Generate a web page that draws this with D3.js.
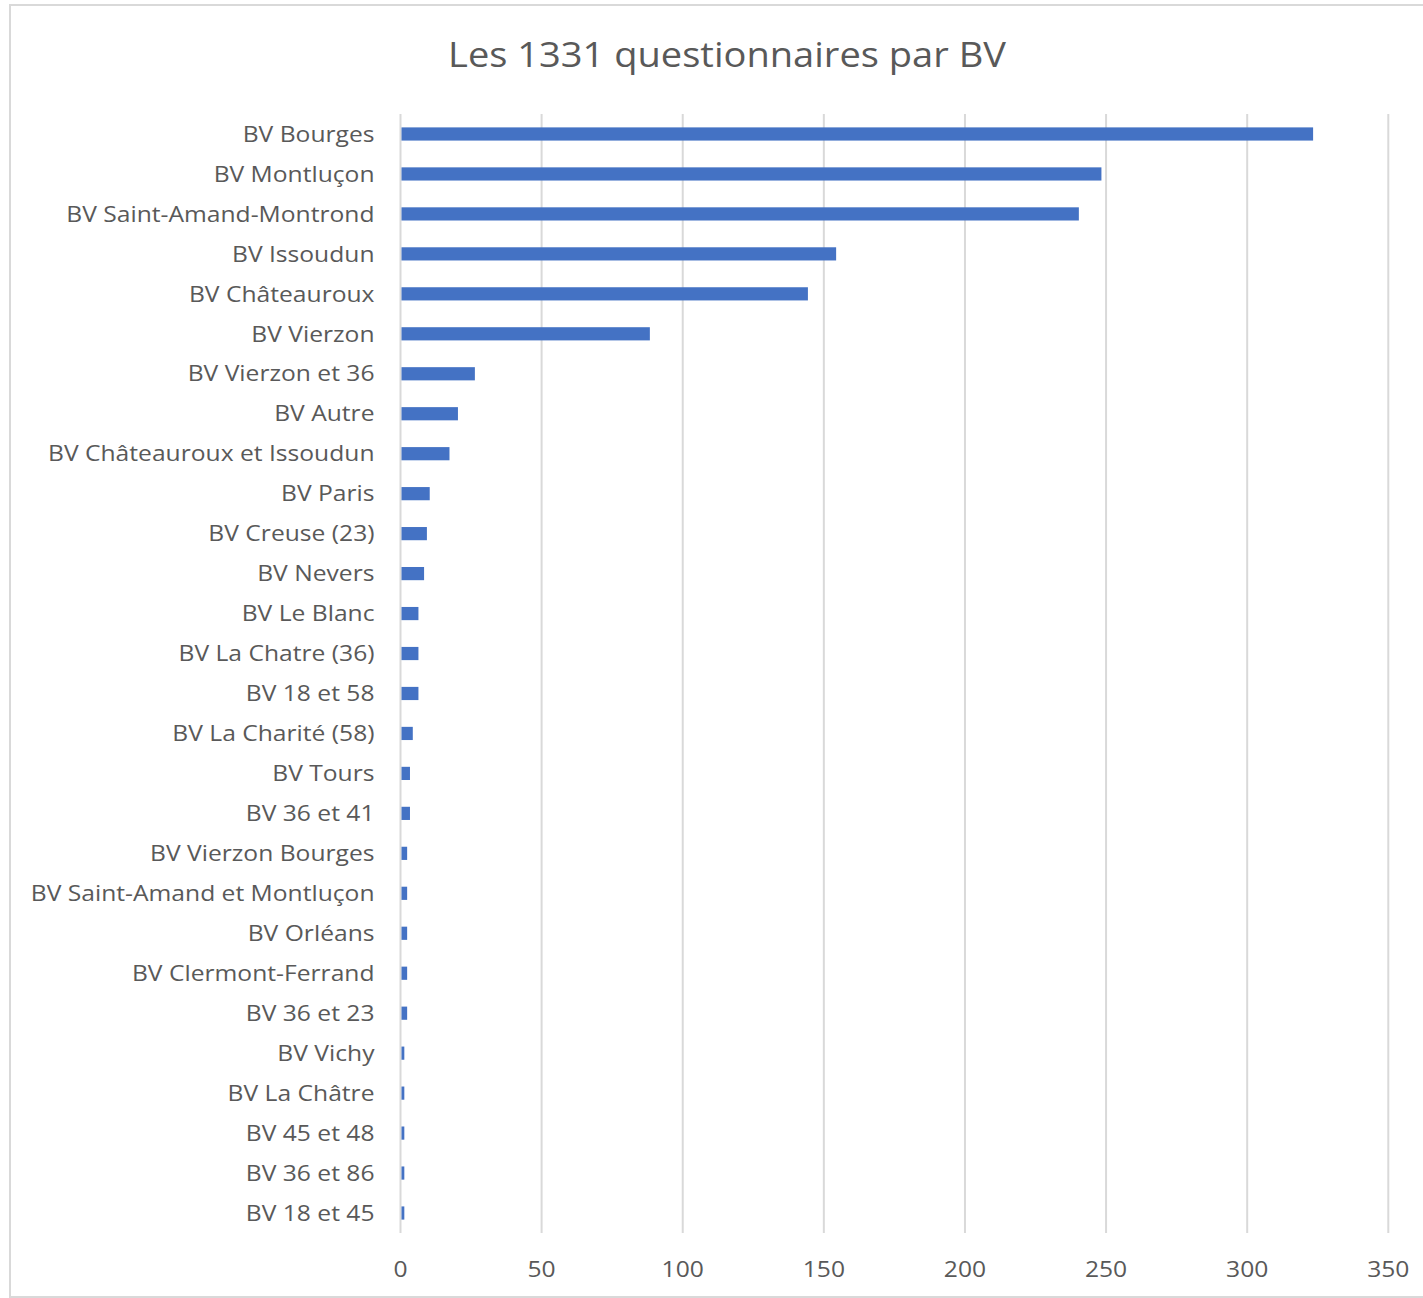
<!DOCTYPE html>
<head>
    <meta charset="utf-8" />
    <script src="https://d3js.org/d3.v7.min.js"></script>
    <style>
        body {
            margin: 0;
            background: #fff;
        }
        text {
            font-family: "Open Sans", Lato, sans-serif;
            fill: #595959;
        }
    </style>
</head>
<body>
<div id="chart"></div>
<script>
    // données
    const titre = "Les 1331 questionnaires par BV";
    const bassins = [
        "BV Bourges", "BV Montluçon", "BV Saint-Amand-Montrond", "BV Issoudun",
        "BV Châteauroux", "BV Vierzon", "BV Vierzon et 36", "BV Autre",
        "BV Châteauroux et Issoudun", "BV Paris", "BV Creuse (23)", "BV Nevers",
        "BV Le Blanc", "BV La Chatre (36)", "BV 18 et 58", "BV La Charité (58)",
        "BV Tours", "BV 36 et 41", "BV Vierzon Bourges", "BV Saint-Amand et Montluçon",
        "BV Orléans", "BV Clermont-Ferrand", "BV 36 et 23", "BV Vichy",
        "BV La Châtre", "BV 45 et 48", "BV 36 et 86", "BV 18 et 45"
    ];
    const questionnaires = [
        323, 248, 240, 154,
        144, 88, 26, 20,
        17, 10, 9, 8,
        6, 6, 6, 4,
        3, 3, 2, 2,
        2, 2, 2, 1,
        1, 1, 1, 1
    ];
    const ticks = [0, 50, 100, 150, 200, 250, 300, 350];

    const W = 1423, H = 1298;
    const margin = {top: 114, right: 35, bottom: 65, left: 400.5};
    const width = 1388.3 - margin.left,
        height = H - margin.top - margin.bottom;
    // le texte de l'original est un peu étiré en largeur
    const etire = 1.12;

    const svg = d3.select("#chart")
        .append("svg")
        .attr("width", W)
        .attr("height", H);

    // cadre gris du graphique
    svg.append("rect")
        .attr("x", 10)
        .attr("y", 5)
        .attr("width", W + 20)
        .attr("height", H - 6)
        .attr("fill", "none")
        .attr("stroke", "#d9d9d9")
        .attr("stroke-width", 2);

    svg.append("text")
        .attr("transform", "translate(727,67) scale(" + etire + ",1)")
        .attr("text-anchor", "middle")
        .style("font-size", "34px")
        .text(titre);

    const g = svg.append("g")
        .attr("transform", "translate(" + margin.left + "," + margin.top + ")");

    const x = d3.scaleLinear().domain([0, 350]).range([0, width]);
    const y = d3.scaleBand().domain(bassins).range([0, height]).paddingInner(0.67).paddingOuter(0.335);

    // lignes de grille
    g.selectAll(".grid")
        .data(ticks)
        .enter()
        .append("line")
        .attr("x1", d => x(d))
        .attr("x2", d => x(d))
        .attr("y1", 0)
        .attr("y2", height)
        .attr("stroke", "#d9d9d9")
        .attr("stroke-width", 2);

    // barres
    g.selectAll(".bar")
        .data(bassins)
        .enter()
        .append("rect")
        .attr("x", x(0) + 1)
        .attr("y", d => y(d))
        .attr("width", (d, i) => x(questionnaires[i]) - x(0))
        .attr("height", y.bandwidth())
        .attr("fill", "#4472c4");

    // étiquettes des catégories
    g.selectAll(".lab")
        .data(bassins)
        .enter()
        .append("text")
        .attr("transform", d => "translate(-26," + (y(d) + y.bandwidth() / 2) + ") scale(" + etire + ",1)")
        .attr("dy", "0.35em")
        .attr("text-anchor", "end")
        .style("font-size", "22px")
        .text(d => d);

    // étiquettes de l'axe
    g.selectAll(".tick")
        .data(ticks)
        .enter()
        .append("text")
        .attr("transform", d => "translate(" + x(d) + "," + (height + 44) + ") scale(" + etire + ",1)")
        .attr("text-anchor", "middle")
        .style("font-size", "22px")
        .text(d => d);
</script>
</body>
